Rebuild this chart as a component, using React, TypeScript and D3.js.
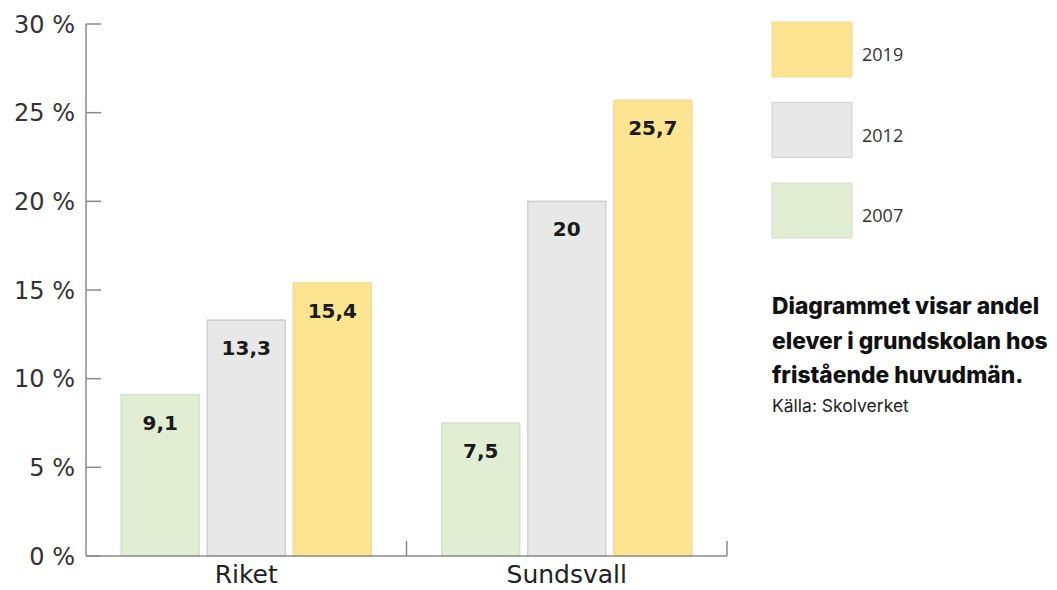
import React from "react";
import * as d3 from "d3";

const categories = ["Riket", "Sundsvall"];
const years = ["2007", "2012", "2019"];
const values2007 = [9.1, 7.5];
const values2012 = [13.3, 20];
const values2019 = [15.4, 25.7];
const valueLabels2007 = ["9,1", "7,5"];
const valueLabels2012 = ["13,3", "20"];
const valueLabels2019 = ["15,4", "25,7"];
const yTicks = [0, 5, 10, 15, 20, 25, 30];
const legendYears = ["2019", "2012", "2007"];
const noteLines = ["Diagrammet visar andel", "elever i grundskolan hos", "fristående huvudmän."];
const source = "Källa: Skolverket";

const colors: Record<string, string> = { "2007": "#e1eed3", "2012": "#e8e8e8", "2019": "#fde491" };
const strokes: Record<string, string> = { "2007": "#d3e0c6", "2012": "#d0d0d0", "2019": "#f3dc94" };

export default function App() {
  const W = 1057, H = 590;
  const x0 = 86, x1 = 727, yBase = 556, yTop = 24;
  const y = d3.scaleLinear().domain([0, 30]).range([yBase, yTop]);
  const xBand = d3.scaleBand().domain(categories).range([x0, x1]).paddingInner(0).paddingOuter(0);
  const groupW = 250;
  const xInner = d3.scaleBand().domain(years).range([0, groupW]).paddingInner(0.095).paddingOuter(0);
  const series: Record<string, { v: number[]; l: string[] }> = {
    "2007": { v: values2007, l: valueLabels2007 },
    "2012": { v: values2012, l: valueLabels2012 },
    "2019": { v: values2019, l: valueLabels2019 },
  };
  const axisColor = "#8a8a8a";
  return (
    <svg width={W} height={H} style={{ position: "absolute", left: 0, top: 0, background: "#fff" }}>
      {categories.map((c, ci) => {
        const gx = (xBand(c) as number) + xBand.bandwidth() / 2 - groupW / 2;
        return years.map((yr) => {
          const v = series[yr].v[ci];
          const bx = gx + (xInner(yr) as number);
          const bw = xInner.bandwidth();
          return (
            <g key={c + yr}>
              <rect x={bx} y={y(v)} width={bw} height={yBase - y(v)} fill={colors[yr]} stroke={strokes[yr]} strokeWidth={1.5} />
              <text x={bx + bw / 2} y={y(v) + 35} textAnchor="middle" fontFamily="DejaVu Sans" fontWeight="bold" fontSize={20} fill="#1a1a1a">
                {series[yr].l[ci]}
              </text>
            </g>
          );
        });
      })}
      <line x1={x0} x2={x0} y1={yTop} y2={yBase} stroke={axisColor} strokeWidth={1.5} />
      {yTicks.map((t) => (
        <g key={t}>
          <line x1={x0} x2={x0 + 15} y1={y(t)} y2={y(t)} stroke={axisColor} strokeWidth={1.5} />
          <text x={75} y={y(t)} dy="0.36em" textAnchor="end" fontFamily="DejaVu Sans" fontSize={24} fill="#333">
            {t} %
          </text>
        </g>
      ))}
      <line x1={x0} x2={x1} y1={yBase} y2={yBase} stroke={axisColor} strokeWidth={1.5} />
      {categories.map((c) => (
        <g key={c}>
          <line x1={(xBand(c) as number) + xBand.bandwidth()} x2={(xBand(c) as number) + xBand.bandwidth()} y1={yBase} y2={yBase - 15} stroke={axisColor} strokeWidth={1.5} />
          <text x={(xBand(c) as number) + xBand.bandwidth() / 2} y={583} textAnchor="middle" fontFamily="DejaVu Sans" fontSize={25} fill="#222">
            {c}
          </text>
        </g>
      ))}
      {legendYears.map((yr, i) => (
        <g key={yr}>
          <rect x={772} y={22 + i * 80.5} width={80} height={55} fill={colors[yr]} stroke={strokes[yr]} strokeWidth={1} />
          <text x={862} y={22 + i * 80.5 + 33} dy="0.36em" fontFamily="Open Sans" fontSize={18} fill="#333">
            {yr}
          </text>
        </g>
      ))}
      {noteLines.map((l, i) => (
        <text key={i} x={772} y={314 + i * 34.5} fontFamily="Inter" fontWeight={800} fontSize={22.8} fill="#111">
          {l}
        </text>
      ))}
      <text x={772} y={412} fontFamily="Inter" fontSize={17.5} fill="#222">
        {source}
      </text>
    </svg>
  );
}
